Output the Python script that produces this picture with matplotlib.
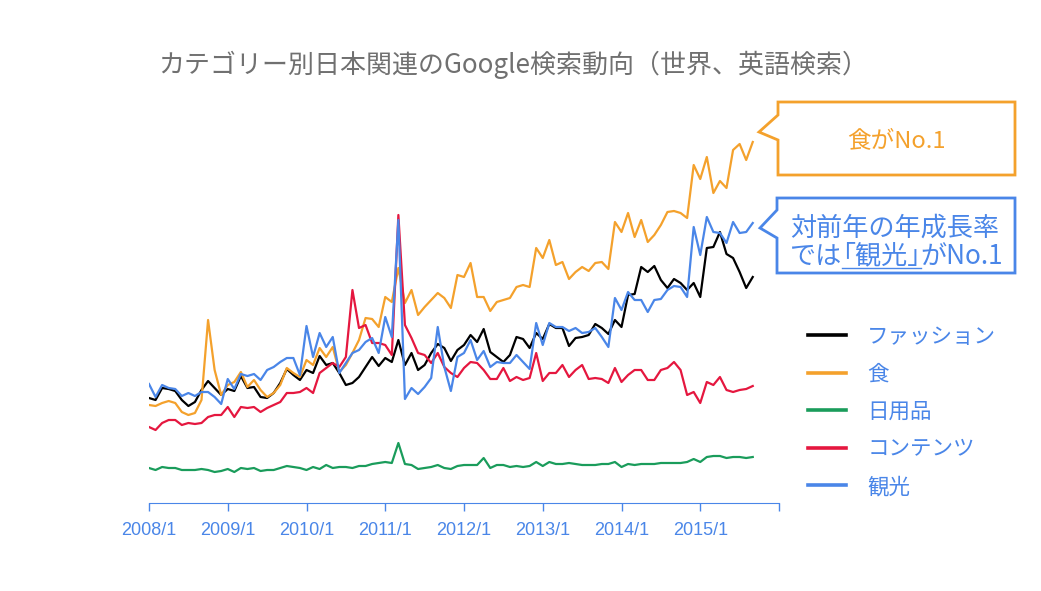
import matplotlib
matplotlib.use("Agg")
from matplotlib import pyplot as plt
from matplotlib.patches import Polygon
from matplotlib.lines import Line2D

plt.rcParams['font.family'] = ['Noto Sans CJK JP', 'DejaVu Sans']

W, H = 1041, 591

# monthly, 2008/1 .. 2015/9 (relative search interest)
months = list(range(93))
tick_pos = [0, 12, 24, 36, 48, 60, 72, 84, 96]
tick_labels = ['2008/1', '2009/1', '2010/1', '2011/1', '2012/1', '2013/1', '2014/1', '2015/1', '']

fashion = [105, 103, 115, 114, 112, 103, 97, 101, 113, 122, 115, 108, 114, 112, 127, 115, 116, 106, 105, 110, 120, 134,
           128, 123, 133, 130, 147, 138, 140, 130, 118, 120, 126, 136, 146, 137, 145, 141, 163,
           138, 150, 133, 138, 150, 159, 155,
           142, 153, 158, 168, 161, 174, 151, 146, 141, 148, 166, 164, 155, 170, 164, 179, 175, 175, 157, 165, 166, 168, 179,
           175, 169, 183, 176, 208, 209, 236, 231, 237, 223, 215, 224, 220, 213, 220, 206, 255, 256, 271, 249, 245, 231, 215, 226]
food = [98, 97, 100, 102, 100, 91, 88, 90, 103, 183, 133, 108, 118, 121, 131, 116, 123, 113, 106, 110, 118, 135,
        130, 126, 143, 138, 155, 146, 156, 131, 138, 150, 163, 185, 184, 176, 206, 201, 235,
        200, 213, 188, 196, 203, 210, 205,
        195, 228, 226, 240, 206, 206, 192, 201, 203, 205, 216, 218, 216, 255, 245, 263, 238, 241, 224, 231,
        236, 232, 240, 241, 234, 281, 271, 290, 266, 283, 261, 268, 278, 291, 292, 290, 285,
        338, 324, 346, 310, 322, 315, 353, 359, 343, 361]
daily = [35, 33, 36, 35, 35, 33, 33, 33, 34, 33, 31, 32, 34, 31, 35, 34, 35, 32, 33, 33, 35, 37, 36, 35, 33, 36, 34,
         38, 35, 36, 36, 35, 37, 37, 39, 40, 41, 40, 60, 39, 38, 34, 35, 36, 38, 35,
         34, 37, 38, 38, 38, 45, 35, 38, 38, 36, 37, 36, 37, 41, 37, 41, 39, 39, 40, 39, 38, 38, 38, 39, 39, 41, 36,
         39, 38, 39, 39, 39, 40, 40, 40, 40, 41, 44, 41, 46, 47, 47, 45, 46, 46, 45, 46]
content = [76, 73, 80, 83, 83, 78, 80, 79, 80, 86, 88, 88, 96, 86, 96, 95, 96, 91, 95, 98, 101, 110,
           110, 111, 115, 110, 130, 135, 140, 136, 146, 213, 175, 178, 160, 160, 158, 148, 288,
           178, 165, 150, 148, 140,
           150, 136, 130, 126, 135, 141, 140, 133, 124, 124, 135, 122, 126, 123, 125, 150, 122, 130, 130, 138, 126, 133,
           138, 124, 125, 124, 120, 135, 121, 128, 133, 133, 123, 123, 133, 135, 141, 133, 108, 111, 100, 121, 118, 126,
           113, 111, 113, 114, 117]
tourism = [119, 106, 118, 115, 114, 107, 110, 107, 111, 111, 106, 99, 124, 114, 129, 127, 129, 123, 133, 136, 141, 145,
           145, 128, 177, 146, 170, 156, 166, 130, 140, 150, 153, 161, 165, 150, 186, 166, 283,
           104, 115, 109, 116, 125,
           176, 136, 112, 146, 150, 163, 143, 152, 136, 141, 140, 140, 148, 141, 134, 180, 158, 180, 176, 176, 172, 175,
           170, 171, 175, 166, 156, 205, 193, 211, 203, 203, 191, 203, 204, 213, 217, 216, 206, 276, 248, 286, 271, 270,
           260, 281, 270, 271, 280]

names = ['ファッション', '食', '日用品', 'コンテンツ', '観光']
colors = ['#000000', '#f4a12c', '#1a9c5b', '#e5173f', '#4a86e8']
blue = '#4a86e8'
orange = '#f4a12c'


def px(x, y):
    return (x / W, 1 - y / H)


fig = plt.figure(figsize=(W / 100, H / 100), dpi=100)
ax = fig.add_axes([149 / W, (H - 503) / H, 630 / W, 403 / H])

for series, name, c in zip([fashion, food, daily, content, tourism], names, colors):
    ax.plot(months, series, color=c, lw=1.6, label=name)

ax.set_xlim(0, 96)
ax.set_ylim(0, 403)
ax.set_yticks([])
ax.set_xticks(tick_pos)
ax.set_xticklabels(tick_labels, fontsize=13, color=blue, family=['Liberation Sans', 'DejaVu Sans'])
ax.tick_params(axis='x', colors=blue, length=6, width=1, pad=8)
for s in ['left', 'top', 'right']:
    ax.spines[s].set_visible(False)
ax.spines['bottom'].set_color(blue)
ax.patch.set_alpha(0)

leg = ax.legend(loc='upper left', bbox_to_anchor=px(808, 326), bbox_transform=fig.transFigure,
                frameon=False, fontsize=15.5, labelcolor=blue, borderaxespad=0, borderpad=0,
                handlelength=1.75, handletextpad=1.0, labelspacing=0.72)
for ln in leg.get_lines():
    ln.set_linewidth(2.6)

fig.text(*px(513, 65), 'カテゴリー別日本関連のGoogle検索動向（世界、英語検索）',
         ha='center', va='center', fontsize=18.7, color='#707070')

# callouts
box1 = [(778, 102), (1015, 102), (1015, 175), (778, 175), (778, 140), (759, 132), (778, 115)]
box2 = [(777, 198), (1015, 198), (1015, 273), (777, 273), (777, 238), (760, 228), (777, 210)]
fig.add_artist(Polygon([px(*p) for p in box1], closed=True, facecolor='white', edgecolor=orange,
                       lw=2, transform=fig.transFigure))
fig.add_artist(Polygon([px(*p) for p in box2], closed=True, facecolor='white', edgecolor=blue,
                       lw=2, transform=fig.transFigure))

fig.text(*px(896, 141), '食がNo.1', ha='center', va='center', fontsize=17, color=orange)
fig.text(*px(790, 228), '対前年の年成長率', ha='left', va='center', fontsize=18.8, color=blue)

fig.canvas.draw()
r = fig.canvas.get_renderer()
t1 = fig.text(*px(790, 256), 'では', ha='left', va='center', fontsize=18.8, color=blue)
b1 = t1.get_window_extent(r)
t2 = fig.text(b1.x1 / W, 1 - 256 / H, '｢観光｣', ha='left', va='center', fontsize=18.8, color=blue)
b2 = t2.get_window_extent(r)
fig.text(b2.x1 / W, 1 - 256 / H, 'がNo.1', ha='left', va='center', fontsize=18.8, color=blue)
fig.add_artist(Line2D([b2.x0 / W, b2.x1 / W], [1 - 268 / H, 1 - 268 / H], color=blue, lw=1,
                      transform=fig.transFigure))

fig.savefig('out.png', dpi=100)
